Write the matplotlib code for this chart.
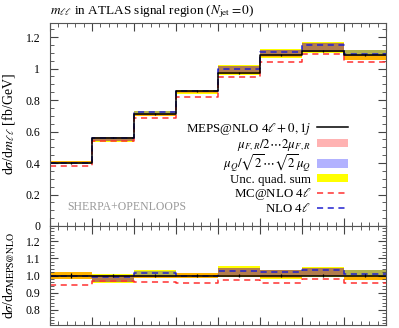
import matplotlib
matplotlib.use("Agg")
import matplotlib.pyplot as plt
import numpy as np
from matplotlib.patches import Patch
from matplotlib.lines import Line2D
from matplotlib.ticker import MultipleLocator, NullFormatter

plt.rcParams['font.family'] = ['Liberation Serif', 'DejaVu Serif']
plt.rcParams['mathtext.fontset'] = 'stix'

# bin edges of m_ll (GeV)
edges = [10, 15, 20, 25, 30, 35, 40, 45, 50]

# MEPS@NLO 4l+0,1j  [fb/GeV]
meps = [0.402, 0.562, 0.710, 0.855, 0.972, 1.087, 1.113, 1.085]
meps_err = [0.006, 0.006, 0.006, 0.006, 0.007, 0.007, 0.007, 0.007]

# ratios to MEPS@NLO
mcnlo_ratio = [0.946, 0.965, 0.963, 0.958, 0.973, 0.958, 0.981, 0.958]
nlo_ratio = [1.000, 0.994, 1.017, 1.000, 1.025, 1.019, 1.035, 1.008]

# uncertainty bands (ratio lo / hi)
murf_lo = [0.980, 0.960, 0.987, 0.985, 0.993, 0.985, 0.995, 0.973]
murf_hi = [1.020, 1.003, 1.004, 1.012, 1.046, 1.030, 1.045, 1.000]
muq_lo = [0.995, 0.960, 0.990, 0.995, 1.005, 1.000, 0.995, 0.998]
muq_hi = [1.005, 1.003, 1.027, 1.003, 1.046, 1.030, 1.045, 1.031]
quad_lo = [0.978, 0.955, 0.985, 0.983, 0.990, 0.980, 0.990, 0.972]
quad_hi = [1.022, 1.006, 1.030, 1.013, 1.054, 1.035, 1.050, 1.032]


def st(v):
    v = np.asarray(v, dtype=float)
    return np.append(v, v[-1])


x = np.array(edges, dtype=float)
centers = 0.5 * (x[:-1] + x[1:])
meps_a = np.array(meps)
band_red = (1, 0, 0, 0.3)
band_blue = (0, 0, 1, 0.3)
band_yel = (1, 1, 0, 1)
red_line = '#ff3030'
blue_line = '#2020d0'

fig = plt.figure(figsize=(3.99, 3.28), dpi=100)
ax = fig.add_axes([0.1253, 0.311, 0.8421, 0.619])
axr = fig.add_axes([0.1253, 0.009, 0.8421, 0.302], sharex=ax)


def draw(a, scale, err):
    a.fill_between(x, st(np.array(quad_lo) * scale), st(np.array(quad_hi) * scale),
                   step='post', color=band_yel, lw=0)
    a.fill_between(x, st(np.array(murf_lo) * scale), st(np.array(murf_hi) * scale),
                   step='post', color=band_red, lw=0)
    a.fill_between(x, st(np.array(muq_lo) * scale), st(np.array(muq_hi) * scale),
                   step='post', color=band_blue, lw=0)
    a.step(x, st(np.array(mcnlo_ratio) * scale), where='post', color=red_line,
           lw=1.1, dashes=(4, 3))
    a.step(x, st(np.array(nlo_ratio) * scale), where='post', color=blue_line,
           lw=1.1, dashes=(4, 3))
    a.step(x, st(np.ones(8) * scale), where='post', color='black', lw=1.1)
    a.errorbar(centers, np.ones(8) * scale, yerr=err,
               fmt='none', ecolor='black', elinewidth=0.9)


draw(ax, meps_a, np.array(meps_err))
draw(axr, np.ones(8), np.array(meps_err) / meps_a)

for a in (ax, axr):
    a.set_xlim(edges[0], edges[-1])
    a.xaxis.set_major_locator(MultipleLocator(5))
    a.xaxis.set_minor_locator(MultipleLocator(1))
    a.xaxis.set_major_formatter(NullFormatter())
    a.tick_params(which='both', direction='in', top=True, right=True,
                  labelsize=8.5, color='#444444', pad=7)
    a.tick_params(which='major', length=6)
    a.tick_params(which='minor', length=3)
    for s in a.spines.values():
        s.set_color('#555555')

ax.set_ylim(0, 1.29)
ax.yaxis.set_minor_locator(MultipleLocator(0.05))
ax.set_yticks([0, 0.2, 0.4, 0.6, 0.8, 1.0, 1.2], ['0', '0.2', '0.4', '0.6', '0.8', '1', '1.2'])
axr.set_ylim(0.71, 1.29)
axr.yaxis.set_minor_locator(MultipleLocator(0.02))
axr.set_yticks([0.8, 0.9, 1.0, 1.1, 1.2], ['0.8', '0.9', '1.0', '1.1', '1.2'])

ax.set_ylabel(r'd$\sigma$/d$m_{\ell\ell}$ [fb/GeV]', fontsize=10, labelpad=6)
axr.set_ylabel(r'd$\sigma$/d$\sigma_{\mathrm{MEPS@NLO}}$', fontsize=10, labelpad=6)
fig.align_ylabels([ax, axr])

ax.set_title(r'$m_{\ell\ell}$ in ATLAS signal region ($N_{\mathrm{jet}} = 0$)',
             loc='left', fontsize=9.5, pad=6)
ax.text(0.05, 0.08, 'SHERPA+OPENLOOPS', transform=ax.transAxes,
        fontsize=8.5, color='#999999')

handles = [
    Line2D([], [], color='black', lw=1.1),
    Patch(facecolor=band_red, lw=0),
    Patch(facecolor=band_blue, lw=0),
    Patch(facecolor=band_yel, lw=0),
    Line2D([], [], color=red_line, lw=1.1, dashes=(4, 3)),
    Line2D([], [], color=blue_line, lw=1.1, dashes=(4, 3)),
]
labels = [
    r'MEPS@NLO 4$\ell + 0,1j$',
    r'$\mu_{F,R}/2\cdots2\mu_{F,R}$',
    r'$\mu_Q/\sqrt{2}\cdots\sqrt{2}\mu_Q$',
    'Unc. quad. sum',
    r'MC@NLO 4$\ell$',
    r'NLO 4$\ell$',
]
ax.legend(handles, labels, loc='lower right', bbox_to_anchor=(0.915, 0.01),
          frameon=False, markerfirst=False, fontsize=9.3, handlelength=2.4,
          handleheight=0.6, handletextpad=0.5, labelspacing=0.0, borderpad=0.2)

fig.savefig('out.png', dpi=100)
